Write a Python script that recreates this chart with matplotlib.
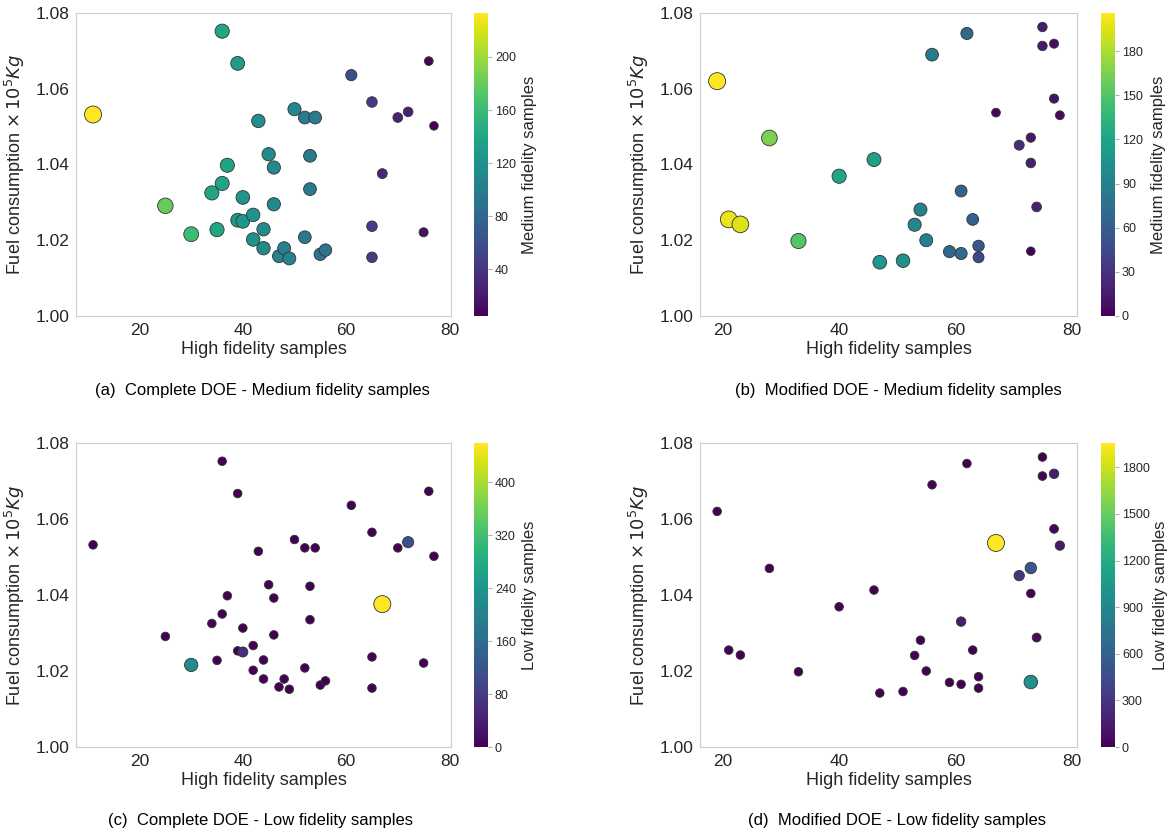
import matplotlib
matplotlib.use('Agg')
import matplotlib.pyplot as plt
import numpy as np

# Complete DOE
hf_complete = [11, 25, 30, 34, 35, 36, 36, 37, 39, 39, 40, 40, 42, 42, 43, 44, 44, 45, 46, 46,
               47, 48, 49, 50, 52, 52, 53, 53, 54, 55, 56, 61, 65, 65, 65, 67, 70, 72, 75, 76, 77]
fuel_complete = [1.0532, 1.0291, 1.0216, 1.0325, 1.0228, 1.0752, 1.0350, 1.0398, 1.0667, 1.0253,
                 1.0313, 1.0250, 1.0267, 1.0202, 1.0515, 1.0229, 1.0179, 1.0427, 1.0392, 1.0295,
                 1.0158, 1.0179, 1.0152, 1.0546, 1.0524, 1.0208, 1.0423, 1.0335, 1.0524, 1.0163,
                 1.0174, 1.0636, 1.0565, 1.0237, 1.0155, 1.0376, 1.0524, 1.0539, 1.0221, 1.0673, 1.0502]
mf_complete = [233, 180, 160, 140, 140, 140, 138, 138, 130, 128, 125, 125, 120, 120, 118, 115, 115, 115, 112, 112,
               105, 105, 105, 110, 100, 98, 100, 100, 100, 92, 92, 60, 45, 45, 45, 30, 28, 25, 15, 8, 5]
lf_complete = [0, 0, 220, 0, 0, 0, 0, 0, 0, 0, 0, 60, 0, 0, 0, 0, 0, 0, 0, 0,
               0, 0, 0, 0, 0, 0, 0, 0, 0, 0, 0, 0, 0, 0, 0, 459, 0, 110, 0, 0, 0]

# Modified DOE
hf_modified = [19, 21, 23, 28, 33, 40, 46, 47, 51, 53, 54, 55, 56, 59, 61, 61,
               62, 63, 64, 64, 67, 71, 73, 73, 73, 74, 75, 75, 77, 77, 78]
fuel_modified = [1.0620, 1.0255, 1.0242, 1.0470, 1.0198, 1.0369, 1.0413, 1.0142, 1.0146, 1.0241,
                 1.0281, 1.0200, 1.0690, 1.0170, 1.0165, 1.0330, 1.0746, 1.0255, 1.0185, 1.0155,
                 1.0537, 1.0451, 1.0471, 1.0404, 1.0171, 1.0288, 1.0763, 1.0713, 1.0719, 1.0574, 1.0530]
mf_modified = [206, 200, 195, 165, 150, 122, 115, 110, 105, 95, 92, 90, 85, 70, 70, 65,
               70, 62, 55, 45, 3, 25, 12, 18, 0, 20, 15, 15, 8, 10, 5]
lf_modified = [0, 0, 0, 0, 0, 0, 0, 0, 0, 0, 0, 0, 0, 0, 0, 150,
               0, 0, 0, 0, 1957, 300, 520, 0, 1000, 50, 0, 20, 150, 30, 130]

captions = ['(a)  Complete DOE - Medium fidelity samples',
            '(b)  Modified DOE - Medium fidelity samples',
            '(c)  Complete DOE - Low fidelity samples',
            '(d)  Modified DOE - Low fidelity samples']

plt.rcParams['font.family'] = ['Liberation Sans', 'DejaVu Sans']
plt.rcParams['text.color'] = '#262626'
plt.rcParams['axes.labelcolor'] = '#262626'
plt.rcParams['xtick.color'] = '#262626'
plt.rcParams['ytick.color'] = '#262626'

W, H = 1170, 835


def box(left, top, right, bottom):
    # pixel box -> figure fraction
    return [left / W, 1 - bottom / H, (right - left) / W, (bottom - top) / H]


def size_map(v, smin=38, smax=150):
    v = np.asarray(v, dtype=float)
    return smin + (v - v.min()) / (v.max() - v.min()) * (smax - smin)


def panel(fig, ax_box, cb_box, x, y, c, label, cticks, label_x):
    ax = fig.add_axes(ax_box)
    sc = ax.scatter(x, y, c=c, s=size_map(c), cmap='viridis',
                    edgecolors='#333333', linewidths=0.6, zorder=3)
    ax.set_ylim(1.0, 1.08)
    ax.set_yticks([1.00, 1.02, 1.04, 1.06, 1.08])
    ax.set_yticklabels(['%.2f' % t for t in [1.00, 1.02, 1.04, 1.06, 1.08]])
    ax.set_xticks([20, 40, 60, 80])
    ax.tick_params(length=0, labelsize=12.5, pad=5)
    for sp in ax.spines.values():
        sp.set_color('#cccccc')
    ax.set_xlabel('High fidelity samples', fontsize=13, labelpad=2)
    ax.set_ylabel(r'Fuel consumption $\times\,10^5Kg$', fontsize=13, labelpad=6)
    cax = fig.add_axes(cb_box)
    cb = fig.colorbar(sc, cax=cax)
    cb.outline.set_visible(False)
    cb.set_ticks(cticks)
    cb.ax.tick_params(labelsize=9, length=3, width=0.6, color='#999999', pad=2)
    cb.set_label(label, fontsize=12)
    cb.ax.yaxis.set_label_coords(label_x, 0.5)
    return ax


fig = plt.figure(figsize=(W / 100, H / 100), dpi=100)

panel(fig, box(76, 13, 451, 316), box(474, 13, 488, 316),
      hf_complete, fuel_complete, mf_complete, 'Medium fidelity samples', [40, 80, 120, 160, 200], 3.4)
panel(fig, box(700, 13, 1077, 316), box(1101, 13, 1115, 316),
      hf_modified, fuel_modified, mf_modified, 'Medium fidelity samples', [0, 30, 60, 90, 120, 150, 180], 3.6)
panel(fig, box(76, 443, 451, 747), box(474, 443, 488, 747),
      hf_complete, fuel_complete, lf_complete, 'Low fidelity samples', [0, 80, 160, 240, 320, 400], 3.45)
panel(fig, box(700, 443, 1077, 747), box(1101, 443, 1115, 747),
      hf_modified, fuel_modified, lf_modified, 'Low fidelity samples', [0, 300, 600, 900, 1200, 1500, 1800], 3.75)

# sub captions
for (cx, cy), txt in zip([(262, 390), (898, 390), (261, 820), (897, 820)], captions):
    fig.text(cx / W, 1 - cy / H, txt, ha='center', va='center', fontsize=12, color='black')

fig.savefig('out.png', dpi=100)
